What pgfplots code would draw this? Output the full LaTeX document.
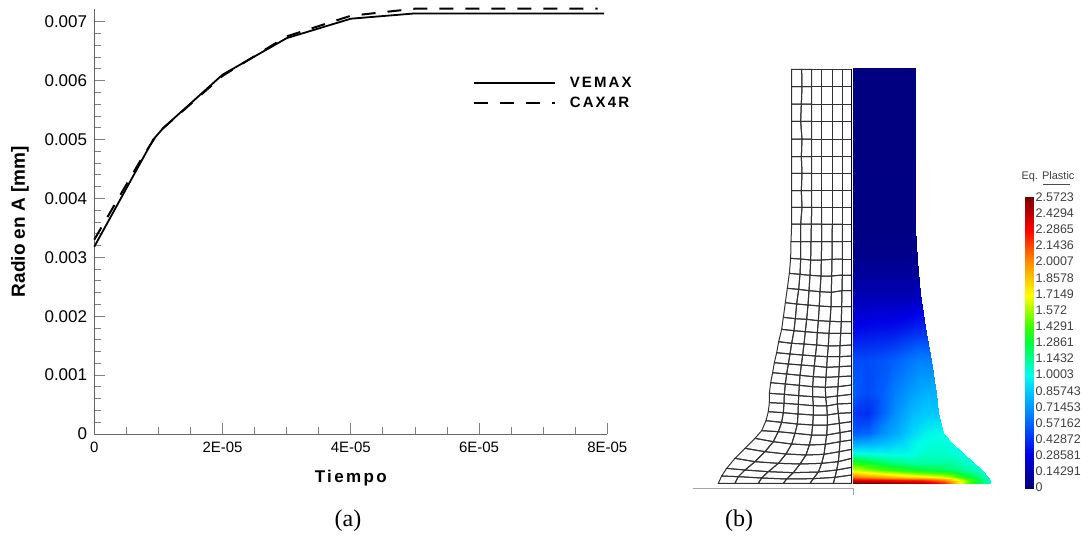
\documentclass[border=0pt]{standalone}
\usepackage{pgfplots}
\pgfplotsset{compat=1.18}
\usepackage{pgfplotstable}
\usepackage{fontspec}
\setmainfont{Liberation Sans}
\newfontfamily\lsb[LetterSpace=14]{Liberation Sans}
\newfontfamily\lst{Liberation Serif}
\pgfplotstableread{
x y c
520 25 .02
552 25 .02
581 25 .02
613 25 .02
645 25 .02
674 25 .02
706 25 .02
520 500 .03
552 500 .03
581 500 .03
613 500 .03
645 500 .03
674 500 .03
706 500 .03
520 600 .06
552 600 .06
583 600 .06
615 600 .06
647 600 .06
678 600 .06
710 600 .06
520 700 .15
554 700 .15
586 700 .15
620 700 .15
654 700 .15
686 700 .15
720 700 .18
520 800 .3
557 800 .32
591 800 .33
628 800 .33
664 800 .35
698 800 .38
735 800 .4
520 900 .5
559 900 .5
597 900 .52
636 900 .55
675 900 .6
713 900 .65
752 900 .65
520 1000 .55
562 1000 .5
602 1000 .55
644 1000 .65
686 1000 .72
726 1000 .78
768 1000 .8
520 1060 .45
563 1060 .42
604 1060 .55
648 1060 .7
691 1060 .8
732 1060 .85
775 1060 .85
520 1120 .55
566 1120 .58
609 1120 .7
655 1120 .78
701 1120 .9
744 1120 .98
790 1120 1.0
520 1150 .75
570 1150 .78
617 1150 .82
668 1150 .9
718 1150 1.0
765 1150 1.02
815 1150 1.0
520 1180 1.0
576 1180 .98
629 1180 .97
685 1180 .98
741 1180 1.05
794 1180 1.05
850 1180 1.0
520 1205 1.35
581 1205 1.25
639 1205 1.15
700 1205 1.1
761 1205 1.1
819 1205 1.1
880 1205 1.02
520 1230 1.65
585 1230 1.5
647 1230 1.4
713 1230 1.3
778 1230 1.25
840 1230 1.15
905 1230 1.02
520 1250 2.05
589 1250 1.95
654 1250 1.85
723 1250 1.75
791 1250 1.65
856 1250 1.35
925 1250 1.05
520 1260 2.35
590 1260 2.3
655 1260 2.25
725 1260 2.2
795 1260 2.0
860 1260 1.5
930 1260 1.05
520 1270 2.57
590 1270 2.55
656 1270 2.5
726 1270 2.45
796 1270 2.2
862 1270 1.5
932 1270 1.0
}\heat
\pgfplotstableread{
x y
335 28
365 28
395 28
425 28
457 28
487 28
515 28
335 80
366 80
395 80
425 80
457 80
487 80
515 80
335 132
364 132
395 132
425 132
457 132
487 132
515 132
335 184
362 184
395 184
425 184
457 184
487 184
515 184
335 237
366 237
395 237
425 237
457 237
487 237
515 237
335 290
364 290
395 290
425 290
457 290
487 290
515 290
335 340
366 340
395 340
425 340
457 340
487 340
515 340
335 392
364 392
395 392
425 392
457 392
487 392
515 392
335 442
366 442
395 442
425 442
457 442
487 442
515 442
335 492
362 492
394 492
425 492
457 492
487 492
515 492
333 545
362 545
393 545
425 545
456 545
487 545
515 545
332 595
362 597
392 600
424 600
456 598
487 597
515 597
328 640
360 643
390 646
423 648
455 648
487 645
515 645
322 685
356 688
387 692
420 695
454 697
486 692
515 692
316 728
350 732
384 735
418 738
453 740
485 740
515 740
310 772
346 776
380 778
415 782
450 784
484 785
515 785
305 808
342 812
376 815
412 818
447 820
482 820
515 820
296 845
335 850
372 852
410 855
445 858
480 857
515 855
290 878
330 882
368 885
406 888
442 890
479 890
515 888
283 908
325 912
364 915
403 918
440 922
478 920
515 918
278 938
320 942
360 946
400 950
438 952
476 950
515 948
272 968
316 972
358 976
398 980
436 982
474 980
515 975
268 1000
313 1003
356 1007
398 1010
437 1012
472 1008
515 1003
268 1028
312 1030
355 1033
400 1037
440 1038
472 1032
515 1030
265 1055
310 1058
354 1062
400 1065
442 1065
475 1060
515 1058
258 1082
305 1087
352 1092
398 1095
442 1095
478 1090
515 1085
245 1112
295 1115
345 1120
395 1125
440 1125
480 1118
515 1112
225 1135
280 1145
335 1152
388 1155
436 1153
480 1145
515 1140
195 1165
255 1175
318 1182
378 1185
432 1183
478 1175
515 1168
165 1195
225 1205
295 1210
360 1212
425 1210
475 1205
515 1195
140 1225
195 1230
265 1235
340 1238
415 1236
470 1230
515 1222
125 1248
175 1250
245 1254
320 1257
400 1256
465 1252
515 1245
115 1270
165 1270
235 1270
310 1270
390 1270
460 1270
515 1270
}\femmesh
\begin{document}
\begin{tikzpicture}[x=1pt,y=1pt]
\path[use as bounding box] (0,0) rectangle (1088,543);
% FEM picture, in an axis whose units are three to a pixel
\begin{axis}[at={(0,0)},anchor=south west,scale only axis,width=1088pt,height=543pt,
  hide axis,view={0}{90},clip=false,
  xmin=-2040,xmax=1224,ymin=-180,ymax=1449,zmin=0,zmax=3,y dir=reverse,
  colormap={fem}{rgb255(0pt)=(0,0,120); rgb255(30pt)=(0,0,230); rgb255(57pt)=(0,100,255); rgb255(85pt)=(0,200,255); rgb255(100pt)=(0,255,230); rgb255(128pt)=(0,255,60); rgb255(143pt)=(60,255,0); rgb255(170pt)=(255,255,0); rgb255(200pt)=(255,140,0); rgb255(228pt)=(255,0,0); rgb255(257pt)=(120,0,0)},
  point meta min=0,point meta max=2.5723]
\addplot3[surf,shader=interp,mesh/cols=7,point meta=z] table[x=x,y=y,z=c] {\heat};
\addplot3[surf,shader=interp,mesh/cols=2,point meta=z] table[x=x,y=y,z=c] {
x y c
1035 411 2.5723
1059 411 2.5723
1035 1284 0
1059 1284 0
};
\end{axis}
\begin{axis}[at={(0,0)},anchor=south west,scale only axis,width=1088pt,height=543pt,
  hide axis,view={0}{90},clip=false,
  xmin=-2040,xmax=1224,ymin=-180,ymax=1449,zmin=0,zmax=1500,y dir=reverse,
  colormap={blk}{gray(0cm)=(0.2); gray(1cm)=(0.2)}]
\addplot3[mesh,line width=1pt,mesh/cols=7,point meta=y] table[x=x,y=y,z=y] {\femmesh};
\addplot[black,line width=1pt] coordinates {(515,28) (515,1270)};
\addplot[black!35,line width=0.8pt] coordinates {(40,1285) (520,1285) (520,1305)};
\end{axis}
% colour bar text
\foreach \v [count=\i from 0] in {2.5723,2.4294,2.2865,2.1436,2.0007,1.8578,1.7149,1.572,1.4291,1.2861,1.1432,1.0003,0.85743,0.71453,0.57162,0.42872,0.28581,0.14291,0}{
  \node[anchor=west,inner sep=0pt,text=black!75,font=\fontsize{12.5}{12.5}\selectfont] at (1035.5,{346-\i*16.15}) {\v};
}
\node[inner sep=0pt,text=black!75,font=\fontsize{11}{11}\selectfont] at (1048,366) {Eq. Plastic};
\draw[black!70,line width=0.6pt] (1043,359) -- (1070,359);
% line chart
\begin{axis}[at={(94.3pt,109pt)},anchor=south west,scale only axis,width=513pt,height=424.7pt,
  xmin=0,xmax=8e-5,ymin=0,ymax=0.00721,clip=false,
  axis x line*=bottom,axis y line*=left,
  axis line style={black!60,line width=0.9pt,-},
  tick align=inside,
  every tick/.style={black!50,line width=0.8pt},
  major tick length=11pt,minor tick length=7pt,
  xtick={0,2e-5,4e-5,6e-5,8e-5},xticklabels={0,2E-05,4E-05,6E-05,8E-05},
  ytick={0,0.001,0.002,0.003,0.004,0.005,0.006,0.007},
  yticklabels={0,0.001,0.002,0.003,0.004,0.005,0.006,0.007},
  minor x tick num=3,minor y tick num=4,
  scaled x ticks=false,scaled y ticks=false,
  x tick label style={font=\fontsize{15}{15}\selectfont,inner sep=0pt,yshift=-8pt},
  y tick label style={font=\fontsize{17}{17}\selectfont,inner sep=0pt,xshift=-7pt},
  /pgf/number format/assume math mode=true,
  xlabel={\lsb\bfseries Tiempo},
  ylabel={\bfseries Radio en A [mm]},
  x label style={font=\fontsize{17}{17}\selectfont,at={(axis description cs:0.5,0)},anchor=north,yshift=-33pt},
  y label style={font=\fontsize{19}{19}\selectfont,at={(axis description cs:0,0.5)},anchor=south,yshift=62pt},
  legend cell align=left,
  legend style={at={(rel axis cs:0.738,0.84)},anchor=north west,draw=none,fill=none,inner sep=0pt,outer sep=0pt,row sep=7.5pt,
    font=\lsb\bfseries\fontsize{15}{15}\selectfont,
    nodes={inner sep=0pt}},
  legend image code/.code={\draw[#1] (0pt,0pt) -- (81pt,0pt);},
]
\addplot[black,line width=1.8pt] coordinates {
(0,0.00318) (9.2e-6,0.00500) (1.08e-5,0.00520) (2e-5,0.00610) (3e-5,0.00672) (4e-5,0.00705) (5e-5,0.00714) (7.95e-5,0.00714)};
\addlegendentry{\hspace{14pt}VEMAX}
\addplot[black,line width=2pt,dash pattern=on 14pt off 12pt] coordinates {
(0,0.00330) (7.5e-6,0.00470) (1e-5,0.00512) (2e-5,0.00608) (3e-5,0.00675) (4e-5,0.00710) (5e-5,0.00722) (7.85e-5,0.00722)};
\addlegendentry{\hspace{14pt}CAX4R}
\end{axis}
\node[font=\lst\fontsize{24}{24}\selectfont,inner sep=0pt] at (348,22) {(a)};
\node[font=\lst\fontsize{24}{24}\selectfont,inner sep=0pt] at (739,22) {(b)};
\end{tikzpicture}
\end{document}
